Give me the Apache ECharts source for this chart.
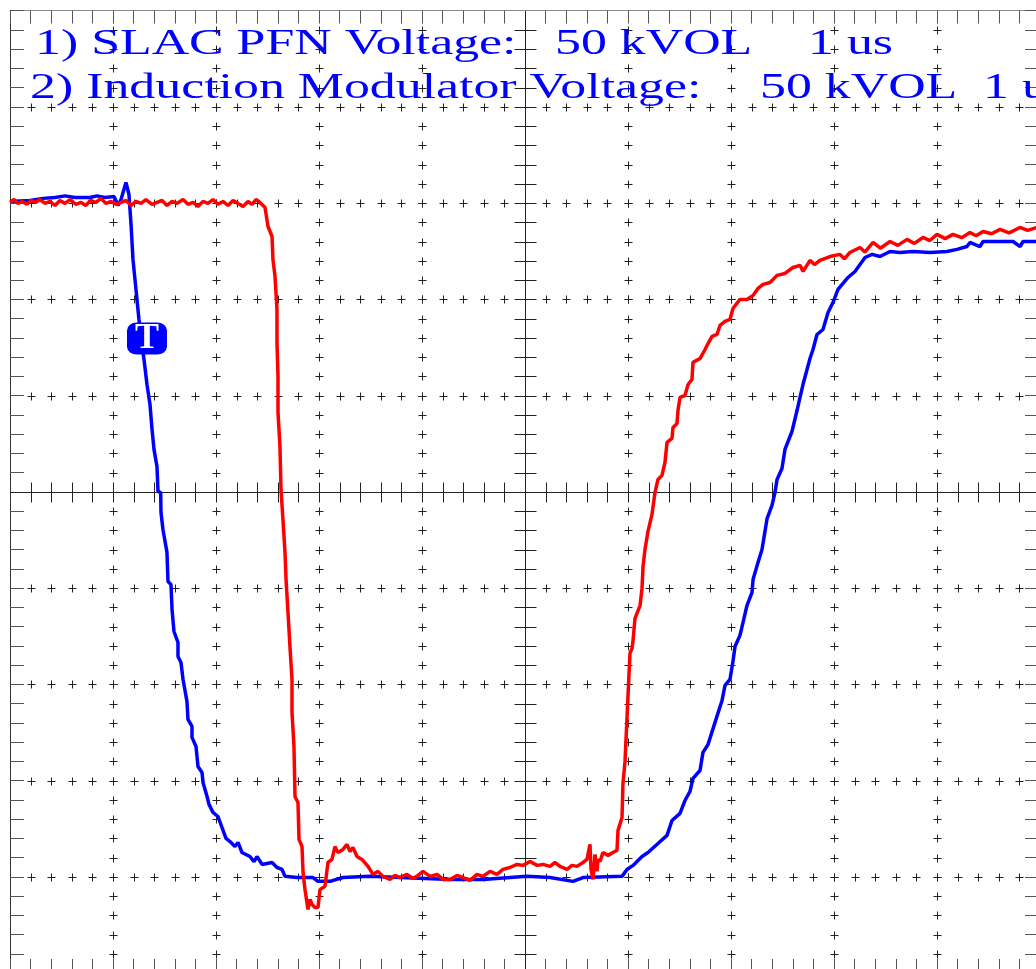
<!DOCTYPE html>
<html>
<head>
	<meta charset="utf-8">
	<title>SLAC PFN / Induction Modulator</title>
	<script src="https://cdn.jsdelivr.net/npm/echarts@6/dist/echarts.min.js"></script>
	<style>
		html, body { margin: 0; padding: 0; background: #fff; }
		#scope { width: 1036px; height: 969px; }
	</style>
</head>
<body>
	<div id="scope"></div>
	<script>
		// scope settings: 1 us/div horizontally, 50 kV/div vertically, 10 x 10 divisions
		var timeRange = [0, 10];
		var voltRange = [-250, 250];
		var timeMinor = 0.2;
		var voltMinor = 10;

		var traceNames = ['1) SLAC PFN Voltage:', '2) Induction Modulator Voltage:'];
		var voltScale = ['50 kVOL', '50 kVOL'];
		var timeScale = ['1 us', '1 us'];

		// trigger marker [us, kV]
		var trigger = [1.33, 79.6];

		// trace 2 (blue) [us, kV]
		var modulatorVolt = [
			[0, 150.8], [0.194, 151.3], [0.320, 152.4], [0.437, 152.9], [0.534, 153.7], [0.631, 152.9],
			[0.777, 152.9], [0.845, 153.7], [0.922, 152.9], [1.010, 153.4], [1.049, 148.7], [1.078, 151.8],
			[1.126, 160.7], [1.155, 154.4], [1.175, 138.9], [1.194, 120.7], [1.223, 105.1], [1.252, 89.5],
			[1.282, 76.5], [1.301, 68.7], [1.330, 55.7], [1.359, 45.4], [1.379, 32.4], [1.398, 22.0],
			[1.427, 13.1], [1.437, 0.2], [1.463, -0.4], [1.466, -10.8], [1.485, -19.6], [1.524, -31.5],
			[1.534, -46.6], [1.563, -48.2], [1.573, -61.1], [1.592, -72.6], [1.631, -78.3], [1.631, -85.6],
			[1.660, -88.7], [1.680, -97.5], [1.718, -108.9], [1.728, -118.3], [1.767, -121.9], [1.767, -127.6],
			[1.806, -132.3], [1.825, -142.7], [1.864, -145.8], [1.874, -151.0], [1.913, -158.3], [1.932, -162.4],
			[1.971, -166.6], [2.019, -168.7], [2.058, -174.4], [2.097, -180.1], [2.136, -181.7], [2.184, -184.3],
			[2.214, -182.2], [2.252, -187.4], [2.330, -189.5], [2.369, -192.1], [2.398, -189.5], [2.447, -193.6],
			[2.544, -192.6], [2.592, -195.2], [2.641, -196.2], [2.670, -199.8], [2.786, -200.4], [2.942, -200.4],
			[2.990, -202.4], [3.107, -202.4], [3.233, -200.4], [3.495, -199.8], [4.272, -201.4], [4.592, -201.4],
			[5.019, -199.8], [5.243, -200.4], [5.466, -202.4], [5.563, -200.4], [5.942, -199.8], [5.990, -196.2],
			[6.049, -194.1], [6.136, -189.5], [6.194, -187.4], [6.291, -182.7], [6.379, -178.5], [6.427, -170.8],
			[6.505, -167.1], [6.553, -160.4], [6.602, -155.7], [6.631, -148.9], [6.699, -144.8], [6.728, -135.4],
			[6.777, -131.3], [6.845, -119.8], [6.913, -108.4], [6.942, -100.6], [6.990, -97.5], [7.019, -88.2],
			[7.039, -80.4], [7.087, -74.6], [7.117, -67.9], [7.155, -59.1], [7.204, -52.3], [7.214, -45.6],
			[7.262, -36.7], [7.301, -30.0], [7.330, -20.6], [7.350, -13.9], [7.398, -7.1], [7.427, -0.4],
			[7.447, 6.4], [7.495, 12.1], [7.524, 22.0], [7.592, 31.3], [7.641, 42.2], [7.670, 49.0],
			[7.699, 55.7], [7.738, 63.5], [7.767, 69.2], [7.796, 73.9], [7.835, 81.7], [7.893, 84.3],
			[7.942, 93.1], [7.990, 98.3], [8.039, 105.1], [8.136, 111.3], [8.204, 114.4], [8.301, 121.7],
			[8.369, 123.3], [8.447, 122.2], [8.544, 124.8], [8.641, 124.3], [8.767, 124.8], [8.932, 124.3],
			[9.097, 124.8], [9.194, 125.9], [9.291, 127.4], [9.320, 129.5], [9.417, 127.4], [9.447, 130.0],
			[9.738, 130.0], [9.806, 127.4], [9.835, 130.0], [10, 130.0]
		];

		// trace 1 (red) [us, kV]
		var pfnVolt = [
			[0, 150.3], [0.039, 151.8], [0.078, 149.8], [0.117, 150.8], [0.165, 149.3], [0.204, 151.3],
			[0.252, 150.3], [0.291, 151.8], [0.340, 149.8], [0.388, 150.8], [0.437, 148.7], [0.485, 151.3],
			[0.534, 149.8], [0.583, 151.8], [0.641, 149.3], [0.689, 150.3], [0.738, 148.7], [0.777, 151.3],
			[0.835, 150.3], [0.883, 152.4], [0.932, 149.8], [0.981, 150.8], [1.029, 149.3], [1.078, 150.3],
			[1.126, 151.3], [1.175, 148.7], [1.223, 150.8], [1.272, 149.8], [1.320, 151.8], [1.379, 149.3],
			[1.427, 150.3], [1.476, 151.3], [1.524, 148.7], [1.573, 150.8], [1.621, 149.8], [1.680, 151.8],
			[1.728, 149.3], [1.777, 150.3], [1.825, 148.2], [1.874, 150.8], [1.922, 149.8], [1.971, 151.8],
			[2.019, 149.3], [2.068, 150.8], [2.117, 148.7], [2.165, 151.3], [2.214, 149.8], [2.262, 148.2],
			[2.311, 150.8], [2.350, 149.3], [2.388, 151.8], [2.427, 150.3],
			[2.476, 147.7], [2.505, 137.8], [2.544, 132.6], [2.553, 120.6], [2.573, 111.8], [2.592, 94.7],
			[2.592, 77.6], [2.602, 59.9], [2.602, 41.2], [2.621, 23.5], [2.631, 1.2], [2.650, -14.4],
			[2.670, -31.5], [2.680, -45.6], [2.699, -62.7], [2.718, -80.4], [2.738, -97.5], [2.738, -114.7],
			[2.757, -132.3], [2.767, -158.3], [2.796, -161.4], [2.806, -180.6], [2.835, -184.3], [2.845, -197.8],
			[2.864, -206.6], [2.893, -217.0], [2.913, -211.8], [2.932, -214.4], [2.961, -216.0], [2.990, -216.0],
			[3.010, -206.6], [3.058, -205.0], [3.087, -192.6], [3.126, -191.0], [3.155, -184.3], [3.184, -187.4],
			[3.233, -185.8], [3.272, -183.2], [3.301, -186.9], [3.330, -184.8], [3.369, -189.5], [3.417, -191.0],
			[3.476, -194.6], [3.524, -198.8], [3.573, -197.2], [3.621, -199.8], [3.689, -201.4], [3.738, -199.3],
			[3.786, -200.4], [3.854, -198.8], [3.913, -200.9], [3.961, -199.3], [4.010, -197.2], [4.078, -199.8],
			[4.146, -198.8], [4.204, -201.4], [4.272, -201.4], [4.340, -199.3], [4.398, -200.4], [4.466, -201.9],
			[4.534, -198.8], [4.592, -199.8], [4.660, -197.2], [4.728, -198.8], [4.786, -196.2], [4.854, -195.2],
			[4.922, -193.6], [4.981, -194.1], [5.049, -192.1], [5.117, -194.1], [5.175, -193.6], [5.243, -194.6],
			[5.291, -192.6], [5.340, -194.6], [5.408, -196.2], [5.456, -194.1], [5.505, -194.6], [5.563, -192.6],
			[5.602, -191.0], [5.631, -183.2], [5.641, -196.2], [5.660, -201.4], [5.680, -188.4], [5.699, -197.2],
			[5.709, -191.0], [5.728, -192.1], [5.757, -187.4], [5.806, -188.9], [5.854, -187.4], [5.893, -186.3],
			[5.903, -175.9], [5.942, -169.2], [5.951, -151.5], [5.971, -140.1], [5.990, -117.8], [6.000, -106.3],
			[6.019, -84.0], [6.039, -81.4], [6.049, -77.2], [6.068, -65.8], [6.117, -59.1], [6.136, -50.2],
			[6.146, -38.8], [6.165, -30.0], [6.194, -20.6], [6.233, -11.8], [6.262, -0.4], [6.291, 6.4],
			[6.330, 8.5], [6.359, 15.2], [6.379, 25.6], [6.427, 27.7], [6.437, 33.4], [6.476, 35.5],
			[6.485, 42.2], [6.505, 49.0], [6.553, 50.0], [6.583, 55.7], [6.621, 58.3], [6.631, 67.2],
			[6.699, 69.2], [6.748, 73.9], [6.777, 77.0], [6.816, 80.7], [6.864, 81.7], [6.893, 86.4],
			[6.942, 88.5], [6.990, 89.5], [7.019, 95.2], [7.087, 99.9], [7.155, 99.9], [7.214, 102.0],
			[7.262, 105.6], [7.311, 107.7], [7.379, 108.7], [7.447, 112.4], [7.524, 113.4], [7.602, 116.5],
			[7.670, 117.6], [7.700, 114.5], [7.767, 120.2], [7.810, 118.0], [7.864, 120.2], [7.961, 122.2],
			[8.058, 123.3], [8.100, 121.0], [8.155, 124.3], [8.252, 126.9], [8.300, 124.5], [8.379, 129.5],
			[8.450, 126.5], [8.544, 130.0], [8.620, 128.0], [8.709, 131.1], [8.780, 129.0], [8.864, 132.1],
			[8.930, 130.5], [9.000, 133.7], [9.080, 131.5], [9.155, 133.7], [9.240, 132.0], [9.320, 134.7],
			[9.380, 133.0], [9.447, 135.2], [9.530, 134.0], [9.612, 136.3], [9.700, 134.5], [9.806, 137.3],
			[9.880, 135.8], [10, 137.8]
		];

		var chart = echarts.init(document.getElementById('scope'), null, { renderer: 'canvas' });

		function borderAxis(pos, min, max, step, tickLen) {
			return {
				type: 'value', position: pos, min: min, max: max, interval: step,
				axisLine: { show: true, onZero: false, lineStyle: { color: pos == 'top' ? '#888' : '#333', width: 1 } },
				axisTick: { show: true, inside: true, length: tickLen, lineStyle: { color: '#555', width: 1 } },
				axisLabel: { show: false },
				splitLine: { show: false }
			};
		}

		// graticule: centre cross with ticks, dotted "+" lines on the other divisions
		function drawGraticule(params, api) {
			var kids = [];
			function seg(a, b) {
				kids.push({ type: 'line', shape: { x1: a[0], y1: a[1], x2: b[0], y2: b[1] }, style: { stroke: '#222', lineWidth: 1 } });
			}
			function snap(p) { return [Math.round(p[0]) + 0.5, Math.round(p[1]) + 0.5]; }
			var nT = Math.round((timeRange[1] - timeRange[0]) / timeMinor);
			var nV = Math.round((voltRange[1] - voltRange[0]) / voltMinor);
			var tMid = (timeRange[0] + timeRange[1]) / 2;
			var vMid = 0;
			// centre lines
			var c0 = snap(api.coord([timeRange[0], vMid])), c1 = snap(api.coord([timeRange[1], vMid]));
			seg(c0, c1);
			var d0 = snap(api.coord([tMid, voltRange[0]])), d1 = snap(api.coord([tMid, voltRange[1]]));
			seg(d0, d1);
			for (var i = 1; i < nT; i++) {
				var t = timeRange[0] + i * timeMinor;
				var p = snap(api.coord([t, vMid]));
				seg([p[0], p[1] - 10], [p[0], p[1] + 10]);
				for (var v = voltRange[0] + 50; v < voltRange[1]; v += 50) {
					if (v == vMid) continue;
					var q = snap(api.coord([t, v]));
					seg([q[0] - 4, q[1]], [q[0] + 4, q[1]]);
					seg([q[0], q[1] - 4], [q[0], q[1] + 4]);
				}
			}
			for (var j = 1; j < nV; j++) {
				var vv = voltRange[0] + j * voltMinor;
				var r = snap(api.coord([tMid, vv]));
				seg([r[0] - 11, r[1]], [r[0] + 11, r[1]]);
				for (var tt = timeRange[0] + 1; tt < timeRange[1]; tt += 1) {
					if (tt == tMid) continue;
					var s = snap(api.coord([tt, vv]));
					seg([s[0] - 4, s[1]], [s[0] + 4, s[1]]);
					seg([s[0], s[1] - 4], [s[0], s[1] + 4]);
				}
			}
			return { type: 'group', children: kids };
		}

		var titleFont = '36px "Liberation Serif", "DejaVu Serif", serif';
		var titleLayout = [
			{ y: 45, x: [35, 555, 808] },
			{ y: 89, x: [30, 760, 983] }
		];
		var titles = [];
		traceNames.forEach(function (name, k) {
			var parts = [name, voltScale[k], timeScale[k]];
			parts.forEach(function (txt, m) {
				titles.push({
					type: 'text', x: titleLayout[k].x[m], y: titleLayout[k].y, scaleX: 1.44, z: 10,
					style: { text: txt, font: titleFont, fill: '#0000ff', textAlign: 'left', textVerticalAlign: 'middle' }
				});
			});
		});

		var option = {
			animation: false,
			backgroundColor: '#fff',
			grid: { left: 10, top: 10.5, width: 1030, height: 962.5, containLabel: false, outerBoundsMode: 'none' },
			xAxis: [
				borderAxis('bottom', timeRange[0], timeRange[1], timeMinor, 14),
				borderAxis('top', timeRange[0], timeRange[1], timeMinor, 13)
			],
			yAxis: [
				borderAxis('left', voltRange[0], voltRange[1], voltMinor, 14),
				borderAxis('right', voltRange[0], voltRange[1], voltMinor, 15)
			],
			graphic: titles,
			series: [
				{
					type: 'custom', name: 'graticule', silent: true, z: 1,
					data: [[0, 0]],
					renderItem: drawGraticule
				},
				{
					type: 'line', name: traceNames[1], data: modulatorVolt, z: 3,
					showSymbol: false, symbol: 'none', clip: true,
					lineStyle: { color: '#0000ff', width: 3.5 },
					markPoint: {
						symbol: 'roundRect', symbolSize: [40, 32], silent: true,
						itemStyle: { color: '#0000ff' },
						label: { show: true, formatter: 'T', color: '#fff', fontFamily: 'Liberation Serif', fontWeight: 'bold', fontSize: 36 },
						data: [{ coord: trigger }]
					}
				},
				{
					type: 'line', name: traceNames[0], data: pfnVolt, z: 4,
					showSymbol: false, symbol: 'none', clip: true,
					lineStyle: { color: '#ff0000', width: 3.5 }
				}
			]
		};
		chart.setOption(option);
	</script>
</body>
</html>
